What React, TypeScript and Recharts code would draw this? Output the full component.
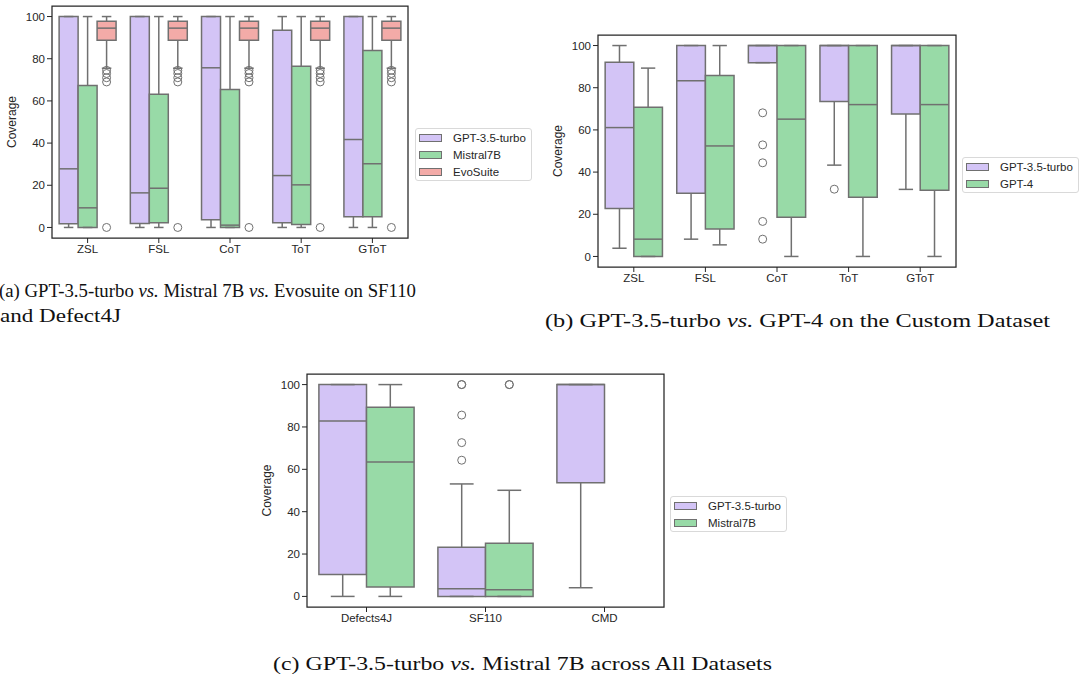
import React from 'react'
import { ScatterChart, Scatter, XAxis, YAxis, ReferenceArea, ReferenceLine } from 'recharts'

// box stats: [lower whisker, q1, median, q3, upper whisker]
type Box = [number, number, number, number, number] | null

const promptCats = ['ZSL', 'FSL', 'CoT', 'ToT', 'GToT']
const datasetCats = ['Defects4J', 'SF110', 'CMD']
const yTicks = [0, 20, 40, 60, 80, 100]

// (a) GPT-3.5-turbo vs Mistral 7B vs EvoSuite
const gpt35A: Box[] = [
  [0, 1.7, 27.8, 100, 100],
  [0, 1.9, 16.4, 100, 100],
  [0, 3.6, 75.7, 100, 100],
  [0, 2.2, 24.6, 93.5, 100],
  [0, 5.1, 41.7, 100, 100],
]
const mistralA: Box[] = [
  [0, 0, 9.3, 67.3, 100],
  [0, 2.2, 18.6, 63.2, 100],
  [0, 0, 1.1, 65.4, 100],
  [0, 1.4, 20.2, 76.4, 100],
  [0, 5.1, 30.2, 83.9, 100],
]
const evosuiteA: Box[] = [
  [75.5, 88.8, 94.5, 97.8, 100],
  [75.5, 88.8, 94.5, 97.8, 100],
  [75.5, 88.8, 94.5, 97.8, 100],
  [75.5, 88.8, 94.5, 97.8, 100],
  [75.5, 88.8, 94.5, 97.8, 100],
]
const evosuiteOutA = [
  [74.5, 73, 71, 69, 0],
  [74.5, 73, 71, 69, 0],
  [74.5, 73, 71, 69, 0],
  [74.5, 73, 71, 69, 0],
  [74.5, 73, 71, 69, 0],
]

// (b) GPT-3.5-turbo vs GPT-4, custom dataset
const gpt35B: Box[] = [
  [3.9, 22.7, 61.1, 92.1, 100],
  [8.2, 30.0, 83.3, 100, 100],
  [91.9, 91.9, 100, 100, 100],
  [43.3, 73.5, 100, 100, 100],
  [31.8, 67.6, 100, 100, 100],
]
const gpt35OutB = [[], [], [68.1, 52.9, 44.4, 16.6, 8.2], [31.9], []]
const gpt4B: Box[] = [
  [0, 0, 8.2, 70.8, 89.3],
  [5.5, 13.0, 52.4, 85.8, 100],
  [0, 18.6, 65.1, 100, 100],
  [0, 28.1, 72.0, 100, 100],
  [0, 31.4, 72.0, 100, 100],
]

// (c) across datasets
const gpt35C: Box[] = [
  [0, 10.4, 82.8, 100, 100],
  [0, 0, 3.6, 23.2, 53.1],
  [4.1, 53.6, 100, 100, 100],
]
const gpt35OutC = [[], [100, 100, 85.6, 72.6, 64.3], []]
const mistralC: Box[] = [
  [0, 4.4, 63.5, 89.3, 100],
  [0, 0, 3.2, 25.1, 50.1],
  null,
]
const mistralOutC = [[], [100, 100], []]

const PURPLE = '#d3c4f6'
const GREEN = '#98daa7'
const RED = '#f3aba8'
const GRAY = '#707070'
const INK = '#262626'
const SANS = '"Liberation Sans", Arial, sans-serif'
const SERIF = '"Liberation Serif", "Times New Roman", serif'

interface Series {
  name: string
  color: string
  boxes: Box[]
  outliers?: number[][]
}

interface PanelProps {
  cats: string[]
  series: Series[]
  left: number
  top: number
  width: number
  height: number
  margin: { top: number; right: number; bottom: number; left: number }
}

const renderYLabel = (props: any) => {
  const vb = props.viewBox || {}
  const x = vb.x + vb.width - 40.5
  const y = vb.y + vb.height / 2
  return (
    <text x={x} y={y} transform={`rotate(-90, ${x}, ${y})`} textAnchor="middle" dominantBaseline="central"
      fill={INK} fontSize={12} fontFamily={SANS}>Coverage</text>
  )
}

const outlierShape = (props: any) => (
  <circle cx={props.cx} cy={props.cy} r={4} fill="none" stroke={GRAY} strokeWidth={1} />
)

const BoxPanel = ({ cats, series, left, top, width, height, margin }: PanelProps) => {
  const n = series.length
  const w = 0.8 / n
  const areas: React.ReactNode[] = []
  const lines: React.ReactNode[] = []
  const points: { x: number; y: number }[] = []

  series.forEach((s, j) => {
    s.boxes.forEach((b, i) => {
      const c = i - 0.4 + w * (j + 0.5)
      ;(s.outliers?.[i] || []).forEach((v) => points.push({ x: c, y: v }))
      if (!b) return
      const [lo, q1, med, q3, hi] = b
      const k = `${j}-${i}`
      areas.push(
        <ReferenceArea key={`box${k}`} x1={c - w / 2} x2={c + w / 2} y1={q1} y2={q3}
          fill={s.color} fillOpacity={1} stroke={GRAY} strokeWidth={1.5} />
      )
      if (hi > q3) lines.push(<ReferenceLine key={`wh${k}`} segment={[{ x: c, y: q3 }, { x: c, y: hi }]} stroke={GRAY} strokeWidth={1.5} />)
      if (q1 > lo) lines.push(<ReferenceLine key={`wl${k}`} segment={[{ x: c, y: lo }, { x: c, y: q1 }]} stroke={GRAY} strokeWidth={1.5} />)
      lines.push(<ReferenceLine key={`ch${k}`} segment={[{ x: c - w / 4, y: hi }, { x: c + w / 4, y: hi }]} stroke={GRAY} strokeWidth={1.5} />)
      lines.push(<ReferenceLine key={`cl${k}`} segment={[{ x: c - w / 4, y: lo }, { x: c + w / 4, y: lo }]} stroke={GRAY} strokeWidth={1.5} />)
      lines.push(<ReferenceLine key={`md${k}`} segment={[{ x: c - w / 2, y: med }, { x: c + w / 2, y: med }]} stroke={GRAY} strokeWidth={1.5} />)
    })
  })

  const xTicks = cats.map((_, i) => i)

  return (
    <div style={{ position: 'absolute', left, top }}>
      <ScatterChart width={width} height={height} margin={margin}>
        <XAxis type="number" dataKey="x" domain={[-0.5, cats.length - 0.5]} ticks={xTicks} interval={0}
          allowDataOverflow tickFormatter={(v: number) => cats[v] ?? ''} height={24} axisLine={false}
          stroke={INK} tickSize={5} tickLine={{ stroke: INK, strokeWidth: 1 }}
          tick={{ fill: INK, fontSize: 11.5, fontFamily: SANS }} />
        <YAxis type="number" dataKey="y" domain={[-5, 105]} ticks={yTicks} allowDataOverflow width={40}
          axisLine={false} stroke={INK} tickSize={5} tickLine={{ stroke: INK, strokeWidth: 1 }}
          tick={{ fill: INK, fontSize: 11.5, fontFamily: SANS }} label={renderYLabel} />
        <ReferenceArea x1={-0.5} x2={cats.length - 0.5} y1={-5} y2={105} fill="none" fillOpacity={0}
          stroke={INK} strokeWidth={1.25} />
        {areas}
        {lines}
        <Scatter data={points} shape={outlierShape} isAnimationActive={false} />
      </ScatterChart>
    </div>
  )
}

const LegendBox = ({ left, top, items }: { left: number; top: number; items: Series[] }) => (
  <div style={{
    position: 'absolute', left, top, width: 117, height: items.length * 17 + 2, boxSizing: 'border-box',
    border: '1px solid #d9d9d9', borderRadius: 3, background: '#fff', fontFamily: SANS, fontSize: 11.5, color: INK,
  }}>
    {items.map((it, i) => (
      <div key={it.name} style={{ position: 'absolute', left: 0, top: i * 17, height: 17, display: 'flex', alignItems: 'center' }}>
        <span style={{ marginLeft: 3, width: 23, height: 8, background: it.color, border: `1px solid ${GRAY}`, boxSizing: 'border-box' }} />
        <span style={{ marginLeft: 11, whiteSpace: 'nowrap' }}>{it.name}</span>
      </div>
    ))}
  </div>
)

const seriesA: Series[] = [
  { name: 'GPT-3.5-turbo', color: PURPLE, boxes: gpt35A },
  { name: 'Mistral7B', color: GREEN, boxes: mistralA },
  { name: 'EvoSuite', color: RED, boxes: evosuiteA, outliers: evosuiteOutA },
]
const seriesB: Series[] = [
  { name: 'GPT-3.5-turbo', color: PURPLE, boxes: gpt35B, outliers: gpt35OutB },
  { name: 'GPT-4', color: GREEN, boxes: gpt4B },
]
const seriesC: Series[] = [
  { name: 'GPT-3.5-turbo', color: PURPLE, boxes: gpt35C, outliers: gpt35OutC },
  { name: 'Mistral7B', color: GREEN, boxes: mistralC, outliers: mistralOutC },
]

export default function App() {
  return (
    <div style={{ position: 'absolute', left: 0, top: 0, width: 1089, height: 677, background: '#fff', overflow: 'hidden' }}>
      <BoxPanel cats={promptCats} series={seriesA} left={0} top={0} width={420} height={270}
        margin={{ top: 6, right: 12, bottom: 8, left: 12 }} />
      <BoxPanel cats={promptCats} series={seriesB} left={540} top={0} width={420} height={300}
        margin={{ top: 35, right: 4, bottom: 9, left: 18 }} />
      <BoxPanel cats={datasetCats} series={seriesC} left={250} top={360} width={420} height={280}
        margin={{ top: 14, right: 6, bottom: 9, left: 17 }} />
      <LegendBox left={415} top={128} items={seriesA} />
      <LegendBox left={962} top={157} items={seriesB} />
      <LegendBox left={670} top={496} items={seriesC} />
      <svg width={1089} height={677} style={{ position: 'absolute', left: 0, top: 0, pointerEvents: 'none' }}>
        <g fontFamily={SERIF} fontSize={19} fill="#111">
          <text x={-1} y={297} textLength={417} lengthAdjust="spacingAndGlyphs">
            (a) GPT-3.5-turbo{' '}<tspan fontStyle="italic">vs.</tspan>{' '}Mistral 7B{' '}<tspan fontStyle="italic">vs.</tspan>{' '}Evosuite on SF110
          </text>
          <text x={0} y={322} textLength={121} lengthAdjust="spacingAndGlyphs">and Defect4J</text>
          <text x={545} y={327} textLength={505} lengthAdjust="spacingAndGlyphs">
            (b) GPT-3.5-turbo{' '}<tspan fontStyle="italic">vs.</tspan>{' '}GPT-4 on the Custom Dataset
          </text>
          <text x={273} y={670} textLength={499} lengthAdjust="spacingAndGlyphs">
            (c) GPT-3.5-turbo{' '}<tspan fontStyle="italic">vs.</tspan>{' '}Mistral 7B across All Datasets
          </text>
        </g>
      </svg>
    </div>
  )
}
